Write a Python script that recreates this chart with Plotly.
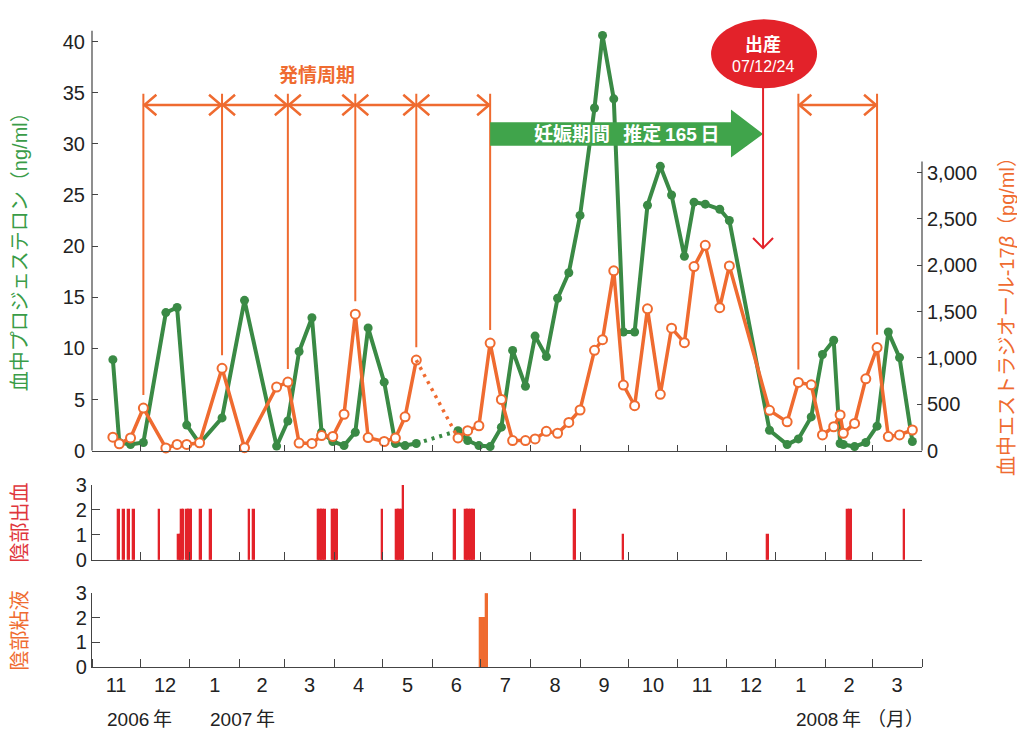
import plotly.graph_objects as go

# ---------------------------------------------------------------- data
sample_dates = [
    "2006-11-14", "2006-11-18", "2006-11-25", "2006-12-03", "2006-12-17", "2006-12-24", "2006-12-30",
    "2007-01-07", "2007-01-21", "2007-02-04", "2007-02-24", "2007-03-03", "2007-03-10", "2007-03-18",
    "2007-03-24", "2007-03-31", "2007-04-07", "2007-04-14", "2007-04-22", "2007-05-02", "2007-05-09",
    "2007-05-15", "2007-05-22",
    "2007-06-17", "2007-06-23", "2007-06-30", "2007-07-07", "2007-07-14", "2007-07-21", "2007-07-29",
    "2007-08-04", "2007-08-11", "2007-08-18", "2007-08-25", "2007-09-01", "2007-09-10", "2007-09-15",
    "2007-09-22", "2007-09-28", "2007-10-05", "2007-10-13", "2007-10-21", "2007-10-28", "2007-11-05",
    "2007-11-11", "2007-11-18", "2007-11-27", "2007-12-03", "2007-12-28", "2008-01-08", "2008-01-15",
    "2008-01-23", "2008-01-30", "2008-02-06", "2008-02-10", "2008-02-12", "2008-02-19", "2008-02-26",
    "2008-03-04", "2008-03-11", "2008-03-18", "2008-03-26",
]
# serum progesterone (ng/ml)
progesterone = [
    8.9, 0.8, 0.6, 0.8, 13.5, 14.0, 2.5, 0.7, 3.2, 14.7,
    0.45, 2.9, 9.7, 13.0, 1.8, 0.9, 0.5, 1.8, 12.0, 6.7,
    0.7, 0.5, 0.7, 1.95, 1.0, 0.5, 0.4, 2.3, 9.8, 6.3,
    11.2, 9.2, 14.9, 17.4, 23.0, 33.5, 40.6, 34.4, 11.6, 11.6,
    24.0, 27.8, 25.0, 19.0, 24.3, 24.1, 23.6, 22.5, 2.0, 0.6,
    1.15, 3.3, 9.4, 10.8, 0.7, 0.6, 0.4, 0.8, 2.4, 11.6,
    9.1, 0.9,
]
# serum estradiol-17beta (pg/ml)
estradiol = [
    145, 74, 138, 460, 29, 67, 67, 85, 889, 32,
    687, 740, 82, 78, 163, 154, 393, 1473, 141, 99,
    136, 365, 977, 138, 216, 269, 1161, 552, 109, 109,
    127, 209, 188, 305, 439, 1083, 1197, 1940, 708, 485,
    1530, 608, 1322, 1165, 1986, 2216, 1543, 1993, 435, 311,
    736, 711, 170, 258, 386, 188, 294, 775, 1112, 152,
    170, 223,
]
# first sample after the interruption in sampling (drawn dotted across the gap)
resume_date = "2007-06-17"

# estrus dates; arrows join consecutive dates within each group
estrus_groups = [
    ["2006-12-03", "2007-01-21", "2007-03-03", "2007-04-14", "2007-05-22", "2007-07-07"],
    ["2008-01-15", "2008-03-04"],
]
birth_date = "2007-12-24"
birth_label = "07/12/24"
pregnancy_label = "妊娠期間\u2002\u2009推定\u2009165\u2009日"

# vulvar bleeding score per day
bleeding_dates = [
    "2006-11-18", "2006-11-21", "2006-11-24", "2006-11-27", "2006-12-13",
    "2006-12-25", "2006-12-26", "2006-12-27", "2006-12-28",
    "2006-12-30", "2006-12-31", "2007-01-01", "2007-01-02", "2007-01-08", "2007-01-14",
    "2007-02-07", "2007-02-10",
    "2007-03-22", "2007-03-23", "2007-03-24", "2007-03-25", "2007-03-26",
    "2007-03-31", "2007-04-01", "2007-04-02", "2007-04-03",
    "2007-05-01", "2007-05-10", "2007-05-11", "2007-05-12", "2007-05-13", "2007-05-14",
    "2007-06-15", "2007-06-22", "2007-06-23", "2007-06-24", "2007-06-25", "2007-06-26", "2007-06-27",
    "2007-08-29", "2007-09-28", "2007-12-27",
    "2008-02-15", "2008-02-16", "2008-02-17", "2008-03-21",
]
bleeding_scores = [
    2, 2, 2, 2, 2,
    1, 1, 2, 2,
    2, 2, 2, 2, 2, 2,
    2, 2,
    2, 2, 2, 2, 2,
    2, 2, 2, 2,
    2, 2, 2, 2, 2, 3,
    2, 2, 2, 2, 2, 2, 2,
    2, 1, 1,
    2, 2, 2, 2,
]
# vulvar mucus score per day
mucus_dates = ["2007-07-01", "2007-07-02", "2007-07-03", "2007-07-04", "2007-07-05"]
mucus_scores = [2, 2, 2, 2, 3]

# axis ticks and labels
left_ticks = [0, 5, 10, 15, 20, 25, 30, 35, 40]
right_ticks = [0, 500, 1000, 1500, 2000, 2500, 3000]
score_ticks = [0, 1, 2, 3]
year_labels = [("2006-11-16", "2006\u2009年", -11), ("2007-01-16", "2007\u2009年", -6),
               ("2008-01-16", "2008\u2009年", -6)]

# ---------------------------------------------------------------- style
GREEN = "#3a8a45"
GREEN_BAR = "#40a44b"
ORANGE = "#ef6b30"
RED = "#e3222a"
AXIS = "#444444"
TEXT = "#222222"
FONT = "Liberation Sans, Noto Sans CJK JP, sans-serif"
X_RANGE = ["2006-11-01", "2008-04-01"]

fig = go.Figure()

g = sample_dates.index(resume_date)


def add_series(values, yaxis, line, marker):
    fig.add_trace(go.Scatter(x=sample_dates[:g], y=values[:g], mode="lines+markers",
                             line=line, marker=marker, xaxis="x", yaxis=yaxis,
                             showlegend=False, cliponaxis=False))
    fig.add_trace(go.Scatter(x=sample_dates[g - 1:g + 1], y=values[g - 1:g + 1], mode="lines",
                             line=dict(color=line["color"], width=line["width"], dash="3px,5px"),
                             xaxis="x", yaxis=yaxis, showlegend=False))
    fig.add_trace(go.Scatter(x=sample_dates[g:], y=values[g:], mode="lines+markers",
                             line=line, marker=marker, xaxis="x", yaxis=yaxis,
                             showlegend=False, cliponaxis=False))


add_series(progesterone, "y", dict(color=GREEN, width=4),
           dict(size=9, color=GREEN, line=dict(width=0)))
add_series(estradiol, "y2", dict(color=ORANGE, width=3.5),
           dict(size=9, color="white", line=dict(color=ORANGE, width=2)))

DAY_MS = 86400000
fig.add_trace(go.Bar(x=bleeding_dates, y=bleeding_scores, width=DAY_MS,
                     marker=dict(color=RED, line=dict(color=RED, width=1.3)),
                     xaxis="x2", yaxis="y3", showlegend=False))
fig.add_trace(go.Bar(x=mucus_dates, y=mucus_scores, width=DAY_MS,
                     marker=dict(color=ORANGE, line=dict(color=ORANGE, width=1.3)),
                     xaxis="x3", yaxis="y4", showlegend=False))

# ---------------------------------------------------------------- axes
Y_TOP = 42.5      # left axis range (ng/ml)
Y2_TOP = 4690     # right axis range (pg/ml)

xcommon = dict(type="date", range=X_RANGE, tick0="2006-11-01", dtick="M1",
               ticks="inside", tickcolor=AXIS, showgrid=False, zeroline=False,
               showline=True, linecolor=AXIS, linewidth=1.2)
ycommon = dict(showgrid=False, zeroline=False, tickcolor=AXIS,
               tickfont=dict(size=20, color=TEXT))

fig.update_layout(
    width=1017, height=730,
    margin=dict(l=92, r=95, t=5, b=63),
    paper_bgcolor="white", plot_bgcolor="white",
    font=dict(family=FONT, color=TEXT),
    bargap=0,
    xaxis=dict(xcommon, domain=[0, 1], anchor="y", ticklen=6, showticklabels=False),
    yaxis=dict(ycommon, domain=[0.3323, 1.0], range=[0, Y_TOP], tickvals=left_ticks,
               ticks="inside", ticklen=6, showline=False, ticklabelstandoff=6),
    yaxis2=dict(ycommon, overlaying="y", side="right", anchor="x", range=[0, Y2_TOP],
                tickvals=right_ticks, tickformat=",", ticks="inside", ticklen=5,
                showline=False, ticklabelstandoff=4),
    xaxis2=dict(xcommon, domain=[0, 1], anchor="y3", matches="x", ticklen=8,
                showticklabels=False),
    yaxis3=dict(ycommon, domain=[0.1647, 0.2795], range=[0, 3], tickvals=score_ticks,
                ticks="inside", ticklen=8, showline=True, linecolor=AXIS, linewidth=1.2,
                anchor="x2"),
    xaxis3=dict(xcommon, domain=[0, 1], anchor="y4", matches="x", ticklen=8,
                showticklabels=True, tickformat="%-m", ticklabelmode="period",
                tickfont=dict(size=20, color=TEXT), ticklabelstandoff=0),
    yaxis4=dict(ycommon, domain=[0.0, 0.1133], range=[0, 3], tickvals=score_ticks,
                ticks="inside", ticklen=8, showline=True, linecolor=AXIS, linewidth=1.2,
                anchor="x3"),
)

shapes = []
# partial axis lines of the hormone panel
shapes.append(dict(type="line", xref="paper", yref="y", x0=0, x1=0, y0=0, y1=41.06,
                   line=dict(color=AXIS, width=1.2)))
shapes.append(dict(type="line", xref="paper", yref="y2", x0=1, x1=1, y0=0, y1=3120,
                   line=dict(color=AXIS, width=1.2)))

# estrus marks and cycle arrows (right-axis units)
MARK_TOP = 3850
ARROW_Y = 3730
HEAD_DY = 111
for group in estrus_groups:
    for d in group:
        peak = estradiol[sample_dates.index(d)]
        shapes.append(dict(type="line", xref="x", yref="y2", x0=d, x1=d,
                           y0=peak + 140, y1=MARK_TOP, line=dict(color=ORANGE, width=2)))
    for a, b in zip(group[:-1], group[1:]):
        shapes.append(dict(type="line", xref="x", yref="y2", x0=a, x1=b, y0=ARROW_Y, y1=ARROW_Y,
                           line=dict(color=ORANGE, width=2.5)))
        shapes.append(dict(type="path", xref="x", yref="y2", xsizemode="pixel", xanchor=a,
                           path=f"M13,{ARROW_Y + HEAD_DY} L1,{ARROW_Y} L13,{ARROW_Y - HEAD_DY}",
                           line=dict(color=ORANGE, width=2.5)))
        shapes.append(dict(type="path", xref="x", yref="y2", xsizemode="pixel", xanchor=b,
                           path=f"M-13,{ARROW_Y + HEAD_DY} L-1,{ARROW_Y} L-13,{ARROW_Y - HEAD_DY}",
                           line=dict(color=ORANGE, width=2.5)))

# pregnancy arrow from the last estrus before conception to the birth date
start = estrus_groups[0][-1]
head_base = "2007-12-04"
bar_top, bar_bot, head_top, head_bot, head_mid = 3544, 3289, 3682, 3162, 3416
shapes.append(dict(
    type="path", xref="x", yref="y2", layer="above", fillcolor=GREEN_BAR,
    line=dict(width=0),
    path=(f"M{start},{bar_top} L{head_base},{bar_top} L{head_base},{head_top} "
          f"L{birth_date},{head_mid} L{head_base},{head_bot} L{head_base},{bar_bot} "
          f"L{start},{bar_bot} Z"),
))

# birth marker
shapes.append(dict(type="circle", xref="x", yref="y", xsizemode="pixel", ysizemode="pixel",
                   xanchor=birth_date, yanchor=38.8, x0=-52, x1=54, y0=-34.5, y1=34.5,
                   fillcolor=RED, line=dict(width=0), layer="above"))
shapes.append(dict(type="line", xref="x", yref="y", x0=birth_date, x1=birth_date,
                   y0=35.6, y1=19.9, line=dict(color=RED, width=2)))
shapes.append(dict(type="path", xref="x", yref="y", xsizemode="pixel", xanchor=birth_date,
                   path="M-10,20.8 L0,19.8 L10,20.8", line=dict(color=RED, width=2)))


def side_title(x, y, text, color):
    return dict(x=x, y=y, xref="paper", yref="paper", text=text, textangle=-90,
                xanchor="center", yanchor="middle", showarrow=False,
                font=dict(size=20, color=color))


annotations = [
    dict(x="2007-03-21", y=4053, xref="x", yref="y2", text="<b>発情周期</b>", showarrow=False,
         font=dict(size=19, color=ORANGE)),
    dict(x="2007-09-30", y=head_mid, xref="x", yref="y2", text=f"<b>{pregnancy_label}</b>",
         showarrow=False, font=dict(size=19, color="white")),
    dict(x=birth_date, y=39.7, xref="x", yref="y", text="<b>出産</b>", showarrow=False,
         font=dict(size=18, color="white")),
    dict(x=birth_date, y=37.55, xref="x", yref="y", text=birth_label, showarrow=False,
         font=dict(size=16, color="white")),
    side_title(-0.0867, 0.645, "血中プロジェステロン（ng/ml）", "#3a9c48"),
    side_title(1.1024, 0.547, "血中エストラジオール-17<i>β</i>（pg/ml）", ORANGE),
    side_title(-0.0867, 0.222, "陰部出血", "#e0363c"),
    side_title(-0.0867, 0.056, "陰部粘液", ORANGE),
    dict(x=1.0, y=-0.080, xref="paper", yref="paper", text="（月）", xanchor="right",
         yanchor="middle", xshift=4, showarrow=False, font=dict(size=19, color=TEXT)),
]
for d, label, shift in year_labels:
    annotations.append(dict(x=d, y=-0.080, xref="x3", yref="paper", text=label, xanchor="left",
                            yanchor="middle", xshift=shift, showarrow=False,
                            font=dict(size=19, color=TEXT)))

fig.update_layout(shapes=shapes, annotations=annotations)

fig.write_html("out.html")
